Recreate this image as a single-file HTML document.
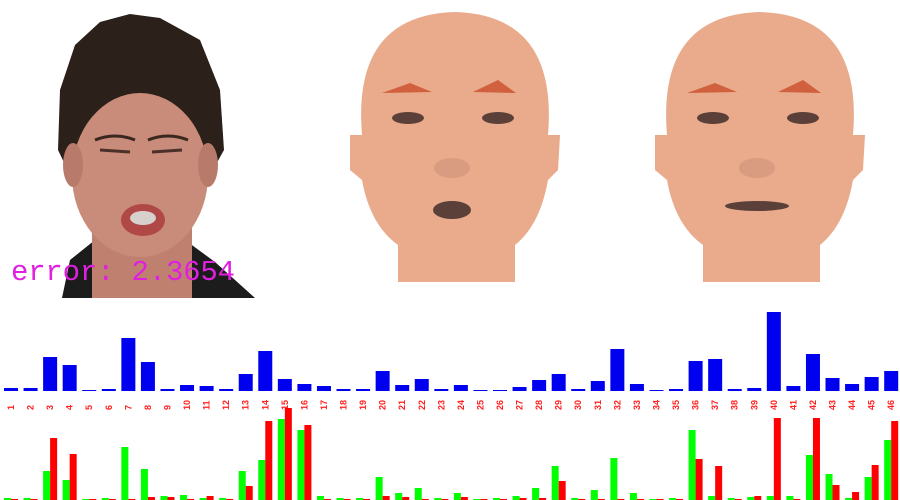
<!DOCTYPE html>
<html><head><meta charset="utf-8"><style>
html,body{margin:0;padding:0;background:#fff;width:900px;height:500px;overflow:hidden}
svg{display:block}
</style></head><body>
<svg id="root" width="900" height="500" viewBox="0 0 900 500">
<g>
  <path d="M62,298 L70,260 L95,240 L185,240 L215,262 L255,298 Z" fill="#1c1c1c"/>
  <rect x="92" y="215" width="100" height="83" fill="#c08070"/>
  <path d="M58,150 L60,90 L75,45 L100,22 L130,14 L160,18 L200,40 L220,90 L224,150 L210,175 L70,175 Z" fill="#2b201a"/>
  <ellipse cx="140" cy="175" rx="68" ry="82" fill="#c98b7a"/>
  <ellipse cx="73" cy="165" rx="10" ry="22" fill="#b87a6a"/>
  <ellipse cx="208" cy="165" rx="10" ry="22" fill="#b87a6a"/>
  <path d="M95,140 Q115,132 135,140 M148,140 Q168,132 188,140" stroke="#3a2820" stroke-width="3" fill="none"/>
  <path d="M100,150 L130,152 M152,152 L182,150" stroke="#4a3028" stroke-width="3"/>
  <ellipse cx="143" cy="220" rx="22" ry="16" fill="#b04848"/>
  <ellipse cx="143" cy="218" rx="13" ry="7" fill="#d8d0cc"/>
</g>
<text x="11" y="280" font-family="'Liberation Mono',monospace" font-size="29" textLength="224" fill="#e020e0">error: 2.3654</text>

<g transform="translate(0,0)">
  <path d="M398,282 L398,245 Q370,225 362,180 L350,170 L350,135 L362,135 Q352,15 455,12 Q558,15 548,135 L560,135 L558,170 L548,180 Q540,225 515,245 L515,282 Z" fill="#e9ab8c"/>
  <path d="M382,93 L410,83 L432,92 Z" fill="#d0603e"/>
  <path d="M473,92 L498,80 L516,93 Z" fill="#d0603e"/>
  <ellipse cx="408" cy="118" rx="16" ry="6" fill="#5a4038"/>
  <ellipse cx="498" cy="118" rx="16" ry="6" fill="#5a4038"/>
  <ellipse cx="452" cy="210" rx="19" ry="9" fill="#5a4038"/>
  <ellipse cx="452" cy="168" rx="18" ry="10" fill="#d99c80"/>
</g>
<g transform="translate(305,0)">
  <path d="M398,282 L398,245 Q370,225 362,180 L350,170 L350,135 L362,135 Q352,15 455,12 Q558,15 548,135 L560,135 L558,170 L548,180 Q540,225 515,245 L515,282 Z" fill="#e9ab8c"/>
  <path d="M382,93 L410,83 L432,92 Z" fill="#d0603e"/>
  <path d="M473,92 L498,80 L516,93 Z" fill="#d0603e"/>
  <ellipse cx="408" cy="118" rx="16" ry="6" fill="#5a4038"/>
  <ellipse cx="498" cy="118" rx="16" ry="6" fill="#5a4038"/>
  <ellipse cx="452" cy="206" rx="32" ry="5" fill="#5a4038"/>
  <ellipse cx="452" cy="168" rx="18" ry="10" fill="#d99c80"/>
</g>
<g id="blue"></g>
<g id="labels"></g>
<g id="gr"></g>
</svg>
<script>
const categories = Array.from({length:46},(_,i)=>String(i+1));
const blueValues = [3,3,34,26,1,2,53,29,2,6,5,2,17,40,12,7,5,2,2,20,6,12,2,6,1,1,4,11,17,2,10,42,7,1,2,30,32,2,3,79,5,37,13,7,14,20];
const greenValues = [2,2,29,20,1,2,53,31,4,5,2,2,29,40,81,70,4,2,2,23,7,12,2,7,1,2,4,12,34,2,10,42,7,1,2,70,4,2,3,4,4,45,26,2,23,60];
const redValues = [1,1,62,46,1,1,1,3,3,1,4,1,14,79,92,75,1,1,1,4,3,1,1,3,1,1,2,2,19,1,1,1,1,1,1,41,34,1,4,82,1,82,15,8,35,79];
const NS="http://www.w3.org/2000/svg";
const x0=4, pitch=19.56;
const xPos=i=>x0+i*pitch;
const yBlue=v=>391-v, yLow=v=>500-v;
function mk(tag,attrs,parent){const e=document.createElementNS(NS,tag);for(const k in attrs)e.setAttribute(k,attrs[k]);parent.appendChild(e);return e;}
const gb=document.getElementById('blue'),gl=document.getElementById('labels'),gg=document.getElementById('gr');
categories.forEach((c,i)=>{
  const x=xPos(i);
  const b=mk('rect',{x:x,y:yBlue(blueValues[i]),width:14,height:blueValues[i],fill:'#0000f0'},gb);
  
  
  const t=mk('text',{x:0,y:0,'font-family':"'Liberation Sans',sans-serif",'font-size':'9','font-weight':'bold',fill:'#ff2020',transform:`translate(${x+10},${410}) rotate(-90)`},gl);
  t.textContent=c;
  
  
  const g=mk('rect',{x:x,y:yLow(greenValues[i]),width:7,height:greenValues[i],fill:'#00ff00'},gg);
  
  
  const r=mk('rect',{x:x+7,y:yLow(redValues[i]),width:7,height:redValues[i],fill:'#ff0000'},gg);
  
  
});
</script>
</body></html>
